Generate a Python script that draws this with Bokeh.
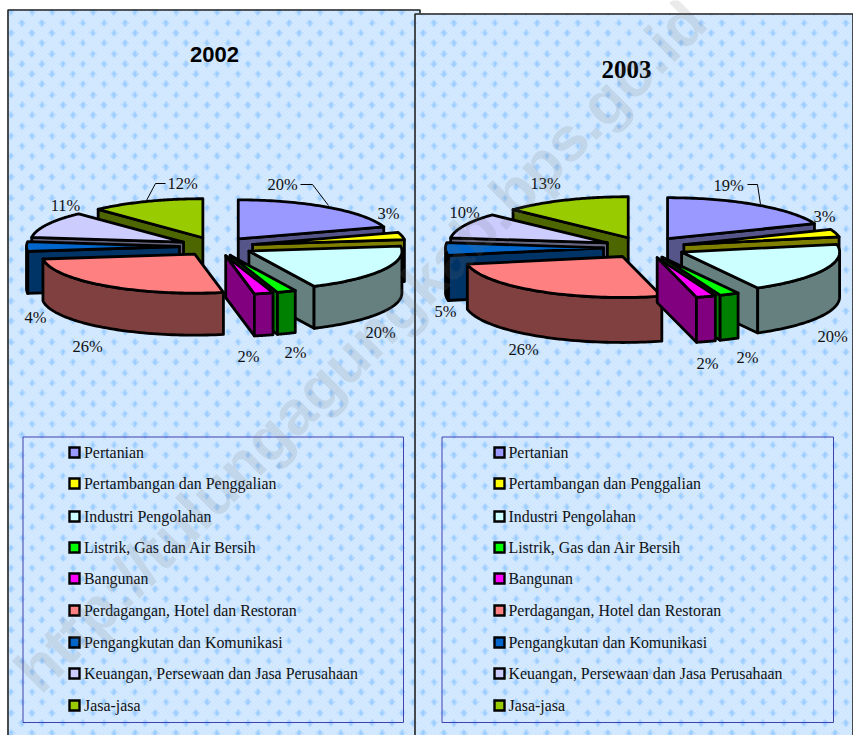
import math
import numpy as np
from bokeh.plotting import figure
from bokeh.models import ColumnDataSource
from bokeh.core.properties import value
from bokeh.embed import file_html
from bokeh.resources import INLINE

categories = ["Pertanian", "Pertambangan dan Penggalian", "Industri Pengolahan",
              "Listrik, Gas dan Air Bersih", "Bangunan", "Perdagangan, Hotel dan Restoran",
              "Pengangkutan dan Komunikasi", "Keuangan, Persewaan dan Jasa Perusahaan", "Jasa-jasa"]
values_2002 = [20, 3, 20, 2, 2, 26, 4, 11, 12]
values_2003 = [19, 3, 20, 2, 2, 26, 5, 10, 13]
top_colors = ["#9999FF", "#FFFF00", "#CCFFFF", "#00FF00", "#FF00FF", "#FF8080", "#0066CC", "#CCCCFF", "#99CC00"]
side_colors = ["#55558A", "#808000", "#668080", "#008000", "#800080", "#804040", "#003366", "#666680", "#4D6600"]

label_pos_2002 = [(282, 184), (388, 213), (380, 332), (295, 352), (248, 356), (87, 346), (35, 317), (65, 205), (182, 183)]
label_pos_2003 = [(728, 185), (824, 216), (832, 336), (747, 357), (707, 363), (523, 349), (445, 311), (464, 212), (545, 183)]
leaders_2002 = [[(300, 184), (312, 184), (328, 205)], [(165, 183), (155, 183), (146, 200)]]
leaders_2003 = [[(747, 184), (757, 184), (760, 204)]]
legend_rows = [452, 483, 516, 547, 578, 610, 642, 673, 705]
watermark = "http://tulungagungkab.bps.go.id"

W, H = 853, 735
p = figure(width=W, height=H, x_range=(0, W), y_range=(0, H), output_backend="svg",
           toolbar_location=None, min_border=0, outline_line_color=None,
           background_fill_color="white", border_fill_color="white")
p.axis.visible = False
p.grid.visible = False


def Y(y):
    if isinstance(y, (list, tuple, np.ndarray)):
        return [H - v for v in y]
    return H - y


def texture(w, h, ox, oy):
    yy, xx = np.mgrid[0:h, 0:w]
    xx = xx + ox
    yy = yy + oy
    rgb = np.zeros((h, w, 3), float)
    rgb[:] = (188, 221, 255)
    light = ((xx // 2 + yy // 2) % 2 == 0)
    rgb[light] = (232, 244, 255)
    for r in range(0, (h + oy) // 10 + 2):
        sy = int(round(r * 10.3)) + 1
        shift = 10 if r % 2 else 0
        for c in range(0, (w + ox) // 20 + 2):
            sx = int(round(c * 20.6)) + shift
            for dy in range(-3, 4):
                half = {0: 3, 1: 1, 2: 1, 3: 0}[abs(dy)]
                for dx in range(-half, half + 1):
                    px, py = sx + dx - ox, sy + dy - oy
                    if 0 <= px < w and 0 <= py < h:
                        rgb[py, px] = (155, 205, 255)
    blur = (2 * rgb + np.roll(rgb, 1, 0) + np.roll(rgb, 1, 1) + np.roll(rgb, -1, 0) + np.roll(rgb, -1, 1)) / 6
    out = np.zeros((h, w), dtype=np.uint32)
    v = out.view(dtype=np.uint8).reshape((h, w, 4))
    v[:, :, :3] = blur.astype(np.uint8)
    v[:, :, 3] = 255
    return out[::-1]


def panel(x0, y0, x1, y1):
    w, h = x1 - x0, y1 - y0
    p.image_rgba(image=[texture(w, h, x0, y0)], x=x0, y=Y(y1), dw=w, dh=h)
    p.line([x0 + .5, x0 + .5, x1 - .5, x1 - .5], Y([y1, y0 + .5, y0 + .5, y1]), line_color="#222222", line_width=1.6)


def pie3d(vals, cx, cy, rx, ry, depth, explode):
    total = sum(vals)
    items = []
    acc = 0.0
    for i, v in enumerate(vals):
        a0 = acc / total * 360
        acc += v
        a1 = acc / total * 360
        mid = math.radians((a0 + a1) / 2)
        ax = cx + explode * math.sin(mid)
        ay = cy - explode * ry / rx * math.cos(mid)
        items.append((math.cos(mid), i, a0, a1, ax, ay))
    items.sort(key=lambda t: -t[0])

    xs, ys, fills = [], [], []

    def pt(ax, ay, ang):
        r = math.radians(ang)
        return ax + rx * math.sin(r), ay - ry * math.cos(r)

    for _, i, a0, a1, ax, ay in items:
        faces = []
        for ang, norm in ((a0, a0 - 90), (a1, a1 + 90)):
            if math.cos(math.radians(norm)) < -1e-6:
                ex, ey = pt(ax, ay, ang)
                faces.append(((ay + ey) / 2, [ax, ex, ex, ax], [ay, ey, ey + depth, ay + depth]))
        faces.sort(key=lambda f: f[0])
        for _, fx, fy in faces:
            xs.append(fx); ys.append(Y(fy)); fills.append(side_colors[i])
        lo, hi = max(a0, 90), min(a1, 270)
        if lo < hi:
            angs = np.linspace(lo, hi, 60)
            px = [pt(ax, ay, a)[0] for a in angs]
            py = [pt(ax, ay, a)[1] for a in angs]
            xs.append(px + px[::-1]); ys.append(Y(py + [y + depth for y in py[::-1]])); fills.append(side_colors[i])
        angs = np.linspace(a0, a1, 60)
        xs.append([ax] + [pt(ax, ay, a)[0] for a in angs])
        ys.append(Y([ay] + [pt(ax, ay, a)[1] for a in angs]))
        fills.append(top_colors[i])
    p.patches(xs=xs, ys=ys, fill_color=fills, line_color="black", line_width=2.8, line_join="round")


def labels(vals, positions, leaders):
    for seg in leaders:
        p.line([q[0] for q in seg], Y([q[1] for q in seg]), line_color="black", line_width=1)
    src = ColumnDataSource(dict(x=[q[0] for q in positions], y=Y([q[1] for q in positions]), t=[f"{v}%" for v in vals]))
    p.text(x="x", y="y", text="t", source=src, text_font=value("Liberation Serif"), text_font_size="16.5px",
           text_align="center", text_baseline="middle", text_color="#111111")


def legend(x0, x1, mx, tx):
    p.line([x0, x1, x1, x0, x0], Y([436.5, 436.5, 722, 722, 436.5]), line_color="#4040B0", line_width=1)
    p.rect(x=[mx] * 9, y=Y(legend_rows), width=10, height=10, fill_color=top_colors, line_color="black",
           line_width=2.4, line_join="miter")
    src = ColumnDataSource(dict(x=[tx] * 9, y=Y(legend_rows), t=categories))
    p.text(x="x", y="y", text="t", source=src, text_font=value("Liberation Serif"), text_font_size="15.9px",
           text_align="left", text_baseline="middle", text_color="#111111")


panel(7, 9, 420, H)
panel(414, 13, W, H)

pie3d(values_2002, 216, 246, 153, 39, 42, 37)
pie3d(values_2003, 644, 247, 158, 41, 45, 41)
labels(values_2002, label_pos_2002, leaders_2002)
labels(values_2003, label_pos_2003, leaders_2003)
legend(22.5, 403, 74, 83.5)
legend(441.5, 833, 499, 508)

p.text(x=[214], y=[Y(54)], text=["2002"], text_font=value("Liberation Sans"), text_font_style="bold",
       text_font_size="22px", text_align="center", text_baseline="middle", text_color="black")
p.text(x=[626], y=[Y(69)], text=["2003"], text_font=value("Liberation Serif"), text_font_style="bold",
       text_font_size="25px", text_align="center", text_baseline="middle", text_color="black")

p.text(x=[25], y=[Y(680)], text=[watermark], angle=[45], angle_units="deg", text_font=value("Liberation Sans"),
       text_font_style="bold", text_font_size="62px", text_align="left", text_baseline="middle",
       text_color="#707070", text_alpha=0.15)

open("out.html", "w").write(file_html(p, INLINE))
